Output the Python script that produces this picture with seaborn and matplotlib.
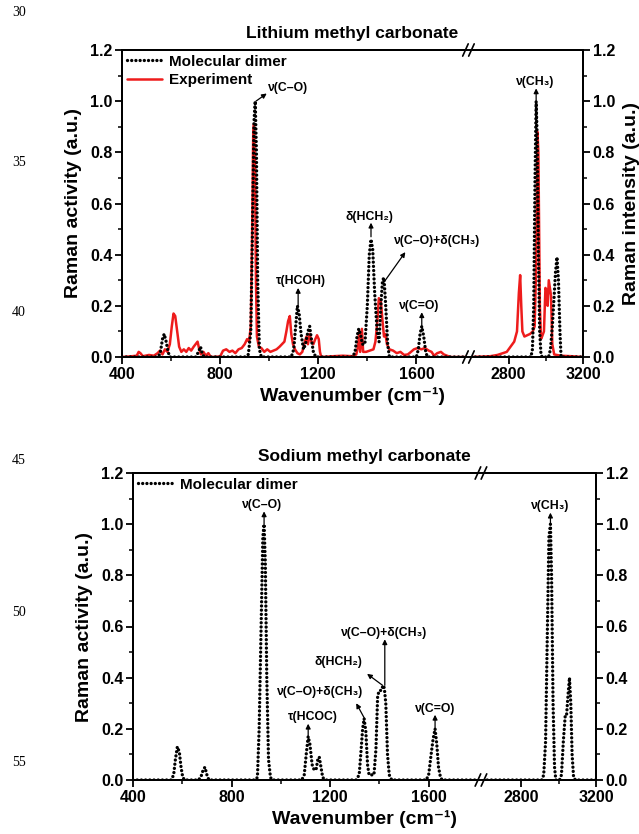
import numpy as np
import pandas as pd
import matplotlib
matplotlib.use("Agg")
import matplotlib.pyplot as plt
import seaborn as sns
from matplotlib.scale import FuncScale
from matplotlib.patches import Rectangle

# ---------------- data ----------------
li_dimer_x = [400, 540, 555, 565, 572, 580, 588, 595, 700, 712, 720, 728, 735,
              900, 915, 925, 932, 938, 943, 948, 953, 960, 968,
              1090, 1100, 1108, 1115, 1122, 1130, 1140, 1148, 1158, 1165, 1172, 1180, 1190,
              1340, 1350, 1358, 1365, 1372, 1380, 1390, 1400, 1408, 1415, 1422, 1430, 1440,
              1448, 1455, 1462, 1468, 1475, 1483, 1490,
              1600, 1608, 1615, 1622, 1630, 1638, 1645, 1800, 2600,
              2920, 2928, 2935, 2942, 2948, 2954, 2960, 2967, 2974, 2980,
              3015, 3025, 3035, 3045, 3052, 3060, 3068, 3076, 3082, 3200]
li_dimer_y = [0, 0, 0.01, 0.07, 0.09, 0.06, 0.02, 0.0, 0, 0.02, 0.04, 0.01, 0,
              0, 0.01, 0.1, 0.5, 0.92, 1.0, 0.8, 0.3, 0.03, 0,
              0, 0.03, 0.12, 0.2, 0.17, 0.09, 0.03, 0.05, 0.1, 0.12, 0.07, 0.02, 0,
              0, 0.02, 0.08, 0.11, 0.09, 0.05, 0.05, 0.2, 0.4, 0.46, 0.42, 0.25, 0.1,
              0.06, 0.2, 0.3, 0.31, 0.2, 0.05, 0,
              0, 0.03, 0.09, 0.12, 0.08, 0.02, 0, 0, 0,
              0, 0.03, 0.2, 0.7, 1.0, 0.85, 0.4, 0.1, 0.01, 0,
              0, 0.03, 0.12, 0.24, 0.33, 0.39, 0.3, 0.1, 0, 0]

li_exp_x = [400, 440, 460, 468, 475, 485, 510, 530, 545, 555, 565, 575, 585, 595, 603, 610,
            617, 625, 633, 642, 652, 662, 672, 682, 692, 700, 708, 715, 722, 732, 742, 752,
            762, 800, 812, 825, 838, 850, 862, 875, 888, 900, 910, 918, 925, 930, 935, 938,
            942, 946, 950, 958, 968, 980, 992, 1005, 1018, 1030, 1042, 1052, 1062, 1070,
            1077, 1084, 1090, 1097, 1105, 1115, 1125, 1135, 1145, 1152, 1158, 1165, 1172,
            1180, 1188, 1195, 1202, 1207, 1212, 1260, 1300, 1340, 1355, 1362, 1367, 1371,
            1378, 1383, 1395, 1410, 1425, 1433, 1440, 1447, 1455, 1462, 1468, 1474, 1480,
            1490, 1505, 1520, 1535, 1550, 1565, 1578, 1590, 1605, 1620, 1635, 1650, 1662,
            1672, 1685, 1700, 1712, 1725, 1740, 1800, 2600, 2700, 2740, 2770, 2790, 2810,
            2830, 2845, 2855, 2862, 2868, 2874, 2885, 2900, 2915, 2930, 2940, 2948, 2955,
            2960, 2964, 2968, 2974, 2980, 2990, 2998, 3005, 3010, 3016, 3022, 3028, 3035,
            3045, 3080, 3140, 3200]
li_exp_y = [0.0, 0.003, 0.005, 0.02, 0.015, 0.003, 0.008, 0.005, 0.015, 0.025, 0.01, 0.03,
            0.02, 0.05, 0.12, 0.17, 0.16, 0.1, 0.04, 0.02, 0.03, 0.02, 0.035, 0.025, 0.04,
            0.05, 0.06, 0.03, 0.01, 0.02, 0.005, 0.015, 0.0, 0.002, 0.025, 0.03, 0.02, 0.025,
            0.015, 0.03, 0.035, 0.05, 0.07, 0.06, 0.12, 0.45, 0.88, 0.91, 0.75, 0.3, 0.08,
            0.04, 0.035, 0.02, 0.03, 0.02, 0.025, 0.03, 0.04, 0.05, 0.06, 0.1, 0.14, 0.16,
            0.09, 0.05, 0.03, 0.015, 0.01, 0.02, 0.06, 0.08, 0.05, 0.09, 0.06, 0.05, 0.07,
            0.085, 0.07, 0.02, 0.0, 0.003, 0.005, 0.003, 0.01, 0.04, 0.1, 0.02, 0.11, 0.02,
            0.02, 0.025, 0.03, 0.06, 0.13, 0.23, 0.22, 0.14, 0.08, 0.09, 0.05, 0.03, 0.025,
            0.015, 0.02, 0.008, 0.01, 0.02, 0.03, 0.035, 0.03, 0.035, 0.025, 0.02, 0.005,
            0.015, 0.02, 0.01, 0.005, 0.0, 0.0, 0.0, 0.003, 0.008, 0.015, 0.02, 0.04, 0.06,
            0.1, 0.25, 0.32, 0.2, 0.1, 0.08, 0.085, 0.09, 0.1, 0.12, 0.35, 0.88, 0.8, 0.5,
            0.2, 0.07, 0.08, 0.1, 0.27, 0.26, 0.2, 0.3, 0.27, 0.24, 0.05, 0.01, 0.005, 0.003, 0.0]

na_dimer_x = [400, 555, 565, 572, 580, 588, 595, 602, 610, 665, 675, 685, 692, 700, 708,
              895, 905, 912, 920, 927, 932, 937, 943, 950, 958, 965,
              1085, 1095, 1103, 1111, 1118, 1127, 1135, 1143, 1150, 1156, 1163, 1170, 1180,
              1305, 1318, 1326, 1332, 1338, 1345, 1352, 1358, 1370, 1378, 1386, 1393, 1400,
              1408, 1415, 1420, 1426, 1433, 1440, 1450,
              1590, 1600, 1610, 1618, 1626, 1633, 1640, 1648, 1655, 1800, 2600,
              2910, 2920, 2930, 2940, 2948, 2956, 2962, 2970, 2978, 2985,
              3005, 3015, 3025, 3035, 3042, 3050, 3058, 3065, 3072, 3080, 3090, 3200]
na_dimer_y = [0, 0, 0.02, 0.08, 0.13, 0.11, 0.05, 0.01, 0, 0, 0.01, 0.04, 0.05, 0.02, 0,
              0, 0.01, 0.2, 0.6, 0.95, 1.0, 0.85, 0.4, 0.08, 0.01, 0,
              0, 0.02, 0.1, 0.17, 0.14, 0.06, 0.04, 0.04, 0.08, 0.09, 0.05, 0.01, 0,
              0, 0.02, 0.12, 0.2, 0.24, 0.19, 0.06, 0.02, 0.02, 0.02, 0.12, 0.33, 0.35,
              0.35, 0.37, 0.36, 0.3, 0.1, 0.02, 0,
              0, 0.02, 0.1, 0.16, 0.2, 0.14, 0.05, 0.01, 0, 0, 0,
              0, 0.02, 0.15, 0.6, 0.95, 1.0, 0.8, 0.3, 0.05, 0,
              0, 0.02, 0.15, 0.25, 0.25, 0.33, 0.4, 0.3, 0.1, 0.01, 0, 0]

x_ticks = [400, 800, 1200, 1600, 2800, 3200]
x_minor = [600, 1000, 1400, 3000]
y_ticks = [0.0, 0.2, 0.4, 0.6, 0.8, 1.0, 1.2]
y_minor = [0.1, 0.3, 0.5, 0.7, 0.9, 1.1]

# ---------------- style ----------------
sns.set_theme(style="ticks")
plt.rcParams["font.family"] = ["Liberation Sans", "DejaVu Sans"]
plt.rcParams["font.weight"] = "bold"
plt.rcParams["axes.labelweight"] = "bold"
plt.rcParams["axes.titleweight"] = "bold"
for key in ["text.color", "axes.labelcolor", "xtick.color", "ytick.color", "axes.edgecolor"]:
    plt.rcParams[key] = "black"

RED = "#ee1c1c"
DOT = (0, (0.01, 1.25))

# broken axis mapping: 400-1800 -> 0..0.745, 2600-3200 -> 0.758..1
BX = [400, 1800, 2600, 3200]
BU = [0.0, 0.745, 0.758, 1.0]


def fwd(x):
    return np.interp(x, BX, BU)


def inv(u):
    return np.interp(u, BU, BX)


fig = plt.figure(figsize=(6.39, 8.34), dpi=100)
ax1 = fig.add_axes([122 / 639, 1 - 357 / 834, (583 - 122) / 639, (357 - 50) / 834])
ax2 = fig.add_axes([133 / 639, 1 - 780 / 834, (596 - 133) / 639, (780 - 473) / 834])


def style_axis(ax, right_label=None):
    ax.set_xscale(FuncScale(ax, (fwd, inv)))
    ax.set_xlim(400, 3200)
    ax.set_ylim(0, 1.2)
    ax.set_xticks(x_ticks)
    ax.set_xticks(x_minor, minor=True)
    ax.set_xticklabels([str(t) for t in x_ticks])
    ax.set_yticks(y_ticks)
    ax.set_yticks(y_minor, minor=True)
    ax.set_yticklabels([f"{t:.1f}" for t in y_ticks])
    for s in ax.spines.values():
        s.set_linewidth(1.4)
        s.set_visible(True)
        s.set_color("black")
    ax.tick_params(axis="both", which="major", direction="out", length=5, width=1.3,
                   labelsize=11.5, pad=2, colors="black")
    ax.tick_params(axis="both", which="minor", direction="out", length=3, width=1.1,
                   colors="black")
    for lab in ax.get_xticklabels() + ax.get_yticklabels():
        lab.set_fontweight("bold")
    ax.set_xlabel("Wavenumber (cm⁻¹)", fontsize=14, fontweight="bold", labelpad=4)
    ax.set_ylabel("Raman activity (a.u.)", fontsize=14, fontweight="bold", labelpad=6)
    axr = ax.twinx()
    axr.set_ylim(0, 1.2)
    axr.set_yticks(y_ticks)
    axr.set_yticks(y_minor, minor=True)
    axr.set_yticklabels([f"{t:.1f}" for t in y_ticks])
    axr.tick_params(axis="y", which="major", direction="out", length=5, width=1.3,
                    labelsize=11.5, pad=2, colors="black")
    axr.tick_params(axis="y", which="minor", direction="out", length=3, width=1.1,
                    colors="black")
    for lab in axr.get_yticklabels():
        lab.set_fontweight("bold")
    for s in axr.spines.values():
        s.set_linewidth(1.4)
        s.set_color("black")
    if right_label:
        axr.set_ylabel(right_label, fontsize=14, fontweight="bold", labelpad=6)
    # break marks
    for y0 in (0, 1):
        ax.add_patch(Rectangle((0.743, y0 - 0.012), 0.017, 0.024, transform=ax.transAxes,
                               facecolor="white", edgecolor="none", clip_on=False, zorder=10))
        for xc in (0.745, 0.758):
            ax.plot([xc - 0.006, xc + 0.006], [y0 - 0.02, y0 + 0.02], transform=ax.transAxes,
                    color="black", lw=1.2, clip_on=False, zorder=11)
    return axr


def note(ax, text, tail, head, tx, ty, ha="center"):
    ax.annotate("", xy=head, xytext=tail,
                arrowprops=dict(arrowstyle="-|>", color="black", lw=0.9, mutation_scale=7,
                                shrinkA=0, shrinkB=0))
    ax.text(tx, ty, text, fontsize=8.8, fontweight="bold", ha=ha, va="center")


# ---------------- top panel ----------------
df_li_d = pd.DataFrame({"x": li_dimer_x, "y": li_dimer_y})
df_li_e = pd.DataFrame({"x": li_exp_x, "y": li_exp_y})
sns.lineplot(data=df_li_d, x="x", y="y", ax=ax1, sort=False, estimator=None, color="black",
             lw=2.4, linestyle=DOT, dash_capstyle="round", label="Molecular dimer", zorder=3)
sns.lineplot(data=df_li_e, x="x", y="y", ax=ax1, sort=False, estimator=None, color=RED,
             lw=1.8, label="Experiment", zorder=2)
style_axis(ax1, right_label="Raman intensity (a.u.)")
ax1.set_title("Lithium methyl carbonate", fontsize=12.5, fontweight="bold", pad=9)
ax1.legend(loc="upper left", frameon=False, prop={"weight": "bold", "size": 11},
           handlelength=2.3, borderaxespad=0.1, handletextpad=0.5, labelspacing=0.3,
           borderpad=0.2)

note(ax1, "ν(C–O)", (946, 1.0), (990, 1.03), 995, 1.05, ha="left")
note(ax1, "τ(HCOH)", (1118, 0.2), (1118, 0.27), 1130, 0.297)
note(ax1, "δ(HCH₂)", (1415, 0.47), (1415, 0.525), 1408, 0.549)
note(ax1, "ν(C–O)+δ(CH₃)", (1466, 0.29), (1555, 0.41), 1685, 0.454)
note(ax1, "ν(C=O)", (1622, 0.12), (1622, 0.175), 1612, 0.2)
note(ax1, "ν(CH₃)", (2948, 1.0), (2948, 1.05), 2945, 1.073)

# ---------------- bottom panel ----------------
df_na_d = pd.DataFrame({"x": na_dimer_x, "y": na_dimer_y})
sns.lineplot(data=df_na_d, x="x", y="y", ax=ax2, sort=False, estimator=None, color="black",
             lw=2.4, linestyle=DOT, dash_capstyle="round", label="Molecular dimer", zorder=3)
style_axis(ax2, right_label=None)
ax2.set_title("Sodium methyl carbonate", fontsize=12.5, fontweight="bold", pad=9)
ax2.legend(loc="upper left", frameon=False, prop={"weight": "bold", "size": 11},
           handlelength=2.3, borderaxespad=0.1, handletextpad=0.5, borderpad=0.2)

note(ax2, "ν(C–O)", (932, 1.0), (932, 1.05), 925, 1.076)
note(ax2, "τ(HCOC)", (1111, 0.17), (1111, 0.22), 1130, 0.245)
note(ax2, "ν(C–O)+δ(CH₃)", (1340, 0.24), (1306, 0.30), 1160, 0.343)
note(ax2, "δ(HCH₂)", (1413, 0.37), (1350, 0.415), 1235, 0.46)
note(ax2, "ν(C–O)+δ(CH₃)", (1422, 0.37), (1422, 0.55), 1420, 0.574)
note(ax2, "ν(C=O)", (1626, 0.2), (1626, 0.255), 1627, 0.278)
note(ax2, "ν(CH₃)", (2956, 1.0), (2956, 1.045), 2952, 1.07)

# ---------------- manuscript line numbers ----------------
for num, ypix in zip(["30", "35", "40", "45", "50", "55"], [12, 162, 312, 460, 612, 762]):
    fig.text(12 / 639, 1 - ypix / 834, num, family="Liberation Serif", fontsize=10,
             fontweight="normal", va="center", ha="left")

fig.savefig("out.png", dpi=100)
